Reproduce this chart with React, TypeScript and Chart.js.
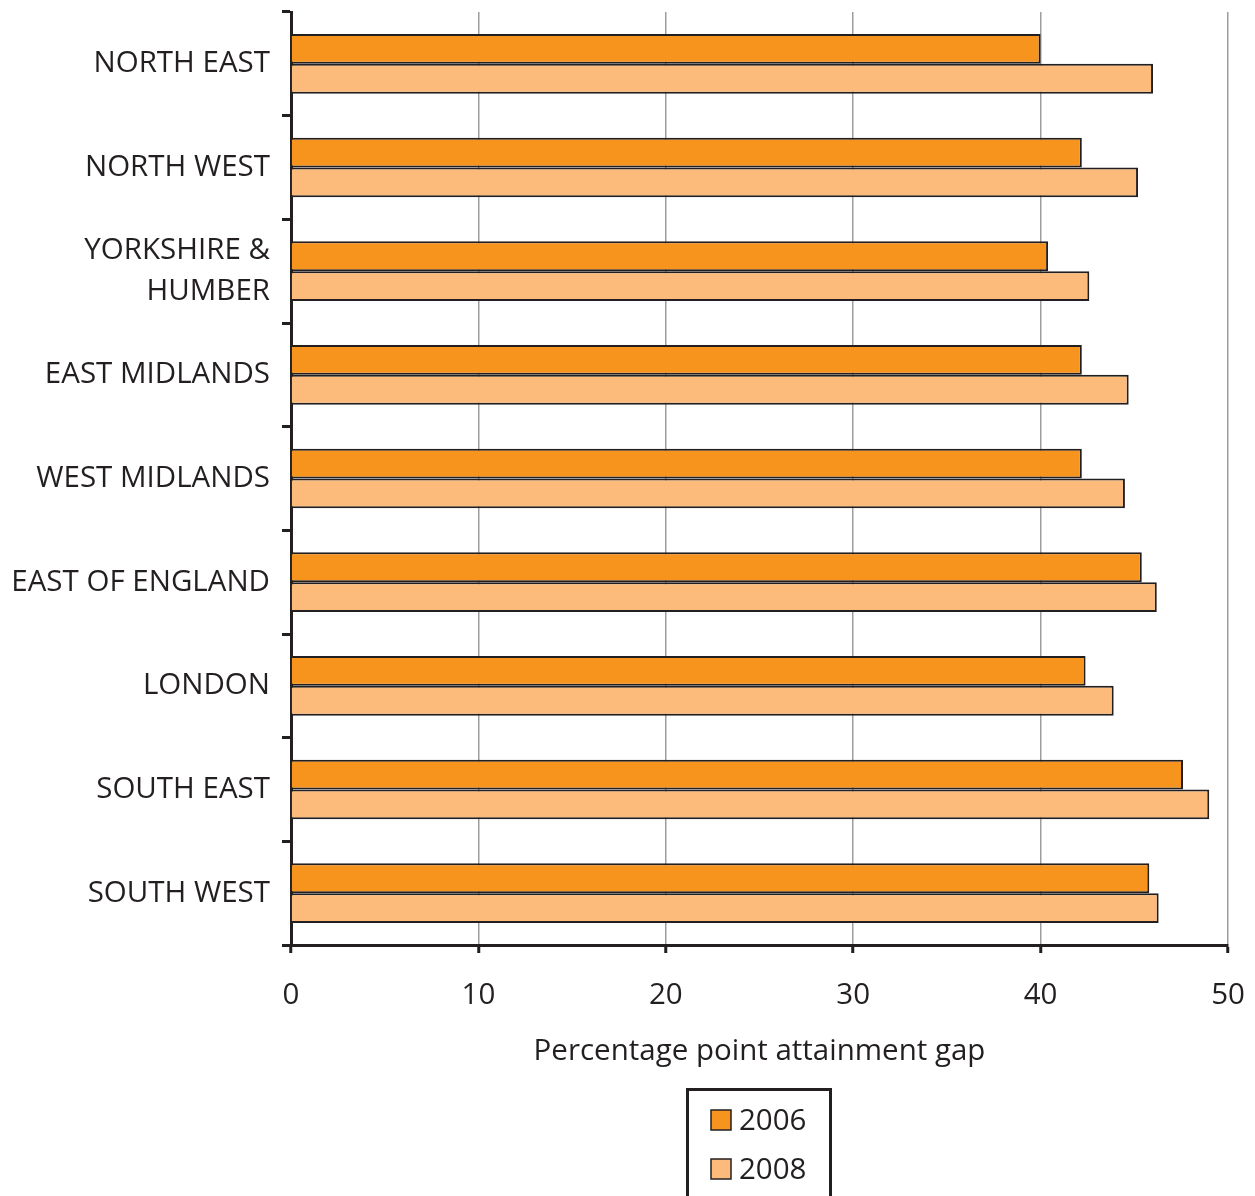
import React, { useEffect, useRef } from "react";
import { Chart, registerables } from "chart.js";

Chart.register(...registerables);

const categories: (string | string[])[] = [
  "NORTH EAST",
  "NORTH WEST",
  ["YORKSHIRE &", "HUMBER"],
  "EAST MIDLANDS",
  "WEST MIDLANDS",
  "EAST OF ENGLAND",
  "LONDON",
  "SOUTH EAST",
  "SOUTH WEST",
];
const values2006 = [40.0, 42.2, 40.4, 42.2, 42.2, 45.4, 42.4, 47.6, 45.8];
const values2008 = [46.0, 45.2, 42.6, 44.7, 44.5, 46.2, 43.9, 49.0, 46.3];
const seriesLabels = ["2006", "2008"];
const xTicks = [0, 10, 20, 30, 40, 50];

const INK = "#231f20";
const FONT = "'Open Sans', sans-serif";
const FS = 29.5;

const boxLegend = {
  id: "boxLegend",
  afterDraw(chart: any) {
    const ctx = chart.ctx;
    ctx.save();
    ctx.strokeStyle = INK;
    ctx.lineWidth = 3;
    ctx.beginPath();
    ctx.moveTo(687.5, 1200);
    ctx.lineTo(687.5, 1089.5);
    ctx.lineTo(830.5, 1089.5);
    ctx.lineTo(830.5, 1200);
    ctx.stroke();
    ctx.font = `${FS}px ${FONT}`;
    ctx.textBaseline = "middle";
    ctx.textAlign = "left";
    chart.data.datasets.forEach((ds: any, i: number) => {
      const cy = 1120 + i * 49;
      ctx.fillStyle = ds.backgroundColor;
      ctx.fillRect(711, cy - 10, 20, 20);
      ctx.lineWidth = 1.5;
      ctx.strokeStyle = INK;
      ctx.strokeRect(711, cy - 10, 20, 20);
      ctx.fillStyle = INK;
      ctx.fillText(ds.label, 739, cy + 2);
    });
    ctx.restore();
  },
};

export default function App() {
  const ref = useRef<HTMLCanvasElement | null>(null);
  useEffect(() => {
    if (!ref.current) return;
    const chart = new Chart(ref.current, {
      type: "bar",
      data: {
        labels: categories as any,
        datasets: [
          {
            label: seriesLabels[0],
            data: values2006,
            backgroundColor: "#f7941e",
            borderColor: INK,
            borderWidth: 2,
            categoryPercentage: 0.575,
            barPercentage: 1,
          },
          {
            label: seriesLabels[1],
            data: values2008,
            backgroundColor: "#fcbb7a",
            borderColor: INK,
            borderWidth: 2,
            categoryPercentage: 0.575,
            barPercentage: 1,
          },
        ],
      },
      options: {
        indexAxis: "y",
        animation: false,
        responsive: true,
        maintainAspectRatio: false,
        devicePixelRatio: 1,
        layout: { padding: { top: 12, right: 27, bottom: 123, left: 0 } },
        plugins: {
          legend: { display: false },
          tooltip: { enabled: false },
        },
        scales: {
          x: {
            type: "linear",
            min: 0,
            max: 50,
            afterBuildTicks: (scale: any) => {
              scale.ticks = xTicks.map((v) => ({ value: v }));
            },
            afterFit: (scale: any) => {
              scale.height = 128;
              scale.paddingLeft = 0;
              scale.paddingRight = 0;
            },
            ticks: {
              color: INK,
              font: { family: FONT, size: FS },
              padding: 25,
              maxRotation: 0,
            },
            grid: {
              color: "#9d9d9d",
              lineWidth: 1.5,
              tickColor: INK,
              tickWidth: 3,
              tickLength: 8,
            },
            border: { display: true, color: INK, width: 3 },
            title: {
              display: true,
              text: "Percentage point attainment gap",
              color: INK,
              font: { family: FONT, size: FS },
              padding: { top: 4, bottom: 4 },
            },
          },
          y: {
            afterFit: (scale: any) => {
              scale.width = 291;
              scale.paddingTop = 0;
              scale.paddingBottom = 0;
            },
            ticks: {
              color: INK,
              font: { family: FONT, size: FS, lineHeight: 1.4 },
              padding: 12,
            },
            grid: {
              drawOnChartArea: false,
              offset: true,
              tickColor: INK,
              tickWidth: 3,
              tickLength: 9,
            },
            border: { display: true, color: INK, width: 3 },
          },
        },
      },
      plugins: [boxLegend],
    });
    return () => chart.destroy();
  }, []);
  return (
    <div style={{ position: "absolute", left: 0, top: 0, width: 1255, height: 1196, background: "#fff" }}>
      <canvas ref={ref} />
    </div>
  );
}
